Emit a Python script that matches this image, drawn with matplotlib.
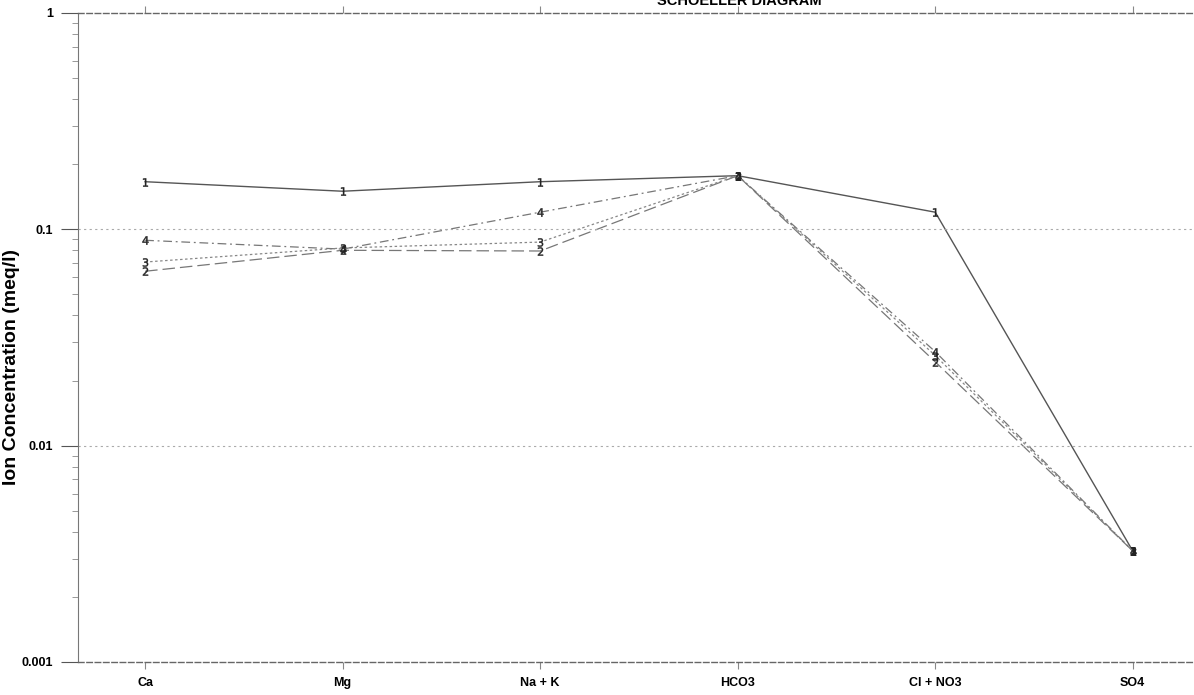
import matplotlib
matplotlib.use("Agg")
import matplotlib.pyplot as plt
from matplotlib.ticker import FixedLocator, LogLocator, NullFormatter

# Data (meq/l)
ions = ["Ca", "Mg", "Na + K", "HCO3", "Cl + NO3", "SO4"]
sample_1 = [0.166, 0.150, 0.166, 0.177, 0.120, 0.00326]
sample_2 = [0.064, 0.080, 0.0794, 0.177, 0.0244, 0.00326]
sample_3 = [0.0706, 0.082, 0.0873, 0.177, 0.0261, 0.00326]
sample_4 = [0.089, 0.081, 0.120, 0.177, 0.0272, 0.00326]
labels = ["1", "2", "3", "4"]
y_ticks = [1, 0.1, 0.01, 0.001]
y_tick_labels = ["1", "0.1", "0.01", "0.001"]

plt.rcParams['font.family'] = ['Liberation Sans', 'DejaVu Sans']

fig = plt.figure(figsize=(11.94, 6.95), dpi=100)
ax = fig.add_axes([0.0653, 0.0475, 0.9347, 0.9338])

series = [sample_1, sample_2, sample_3, sample_4]
styles = [
    dict(linestyle="-", color="#555555", lw=1.0),
    dict(linestyle=(0, (10, 4)), color="#777777", lw=0.9),
    dict(linestyle=(0, (2, 2)), color="#888888", lw=0.9),
    dict(linestyle=(0, (7, 3, 1.5, 3)), color="#777777", lw=0.9),
]
x = list(range(len(ions)))
for vals, lab, st in zip(series, labels, styles):
    ax.plot(x, vals, marker=f"${lab}$", markersize=6,
            markeredgewidth=0.3, markerfacecolor="#222222",
            markeredgecolor="#222222", **st)

ax.set_yscale("log")
ax.set_ylim(0.001, 1)
ax.set_xlim(-0.34, 5.31)

ax.set_xticks(x)
ax.set_xticklabels(ions, fontsize=9, fontweight="bold")
ax.yaxis.set_major_locator(FixedLocator(y_ticks))
ax.set_yticklabels(y_tick_labels, fontsize=9, fontweight="bold")
ax.yaxis.set_minor_locator(LogLocator(base=10, subs=range(2, 10)))
ax.yaxis.set_minor_formatter(NullFormatter())
ax.tick_params(axis="y", which="major", length=12, color="#555555", pad=6)
ax.tick_params(axis="y", which="minor", length=4, color="#888888")
ax.tick_params(axis="x", which="major", length=5, color="#888888",
               top=True, direction="out", pad=6)

for y in [0.1, 0.01]:
    ax.axhline(y, color="#aaaaaa", linestyle=(0, (2, 3)), lw=0.8)

ax.spines["right"].set_visible(False)
ax.spines["left"].set_color("#777777")
for side in ["top", "bottom"]:
    ax.spines[side].set_linestyle((0, (4, 2)))
    ax.spines[side].set_color("#666666")
    ax.spines[side].set_linewidth(1.0)

ax.set_ylabel("Ion Concentration (meq/l)", fontsize=14, fontweight="bold")
ax.yaxis.set_label_coords(-0.052, 0.455)
fig.text(0.619, 0.988, "SCHOELLER DIAGRAM", ha="center", va="bottom",
         fontsize=10.5, fontweight="bold")

fig.savefig("out.png", dpi=100)
